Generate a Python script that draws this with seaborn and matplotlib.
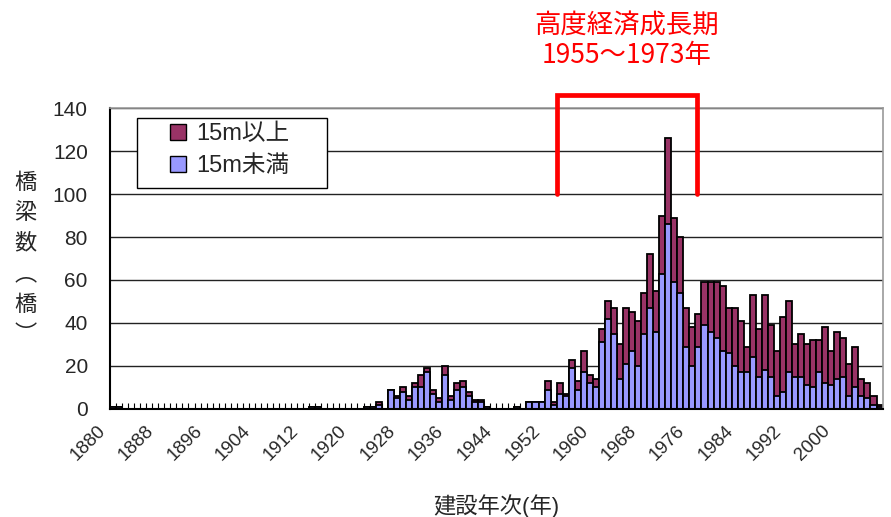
import matplotlib
matplotlib.use("Agg")
import matplotlib.pyplot as plt
import matplotlib.transforms as mtransforms
import pandas as pd
import seaborn as sns
from matplotlib.patches import Patch, Rectangle

# 建設年次 1880-2007
start_year = 1880
end_year = 2007
years = list(range(start_year, end_year + 1))

# 15m未満 (one row per decade)
under_15m = [
    1, 1, 0, 0, 0, 0, 0, 0, 0, 0,          # 1880
    0, 0, 0, 0, 0, 0, 0, 0, 0, 0,          # 1890
    0, 0, 0, 0, 0, 0, 0, 0, 0, 0,          # 1900
    0, 0, 0, 1, 1, 0, 0, 0, 0, 0,          # 1910
    0, 0, 1, 1, 2, 0, 9, 5, 8, 4,          # 1920
    10, 10, 17, 7, 3, 16, 4, 9, 10, 6,     # 1930
    3, 3, 1, 0, 0, 0, 0, 1, 0, 3,          # 1940
    3, 3, 9, 2, 7, 6, 19, 9, 17, 12,       # 1950
    10, 31, 42, 35, 14, 21, 27, 20, 35, 47,  # 1960
    36, 63, 86, 59, 54, 29, 20, 29, 39, 36,  # 1970
    33, 27, 26, 20, 17, 17, 24, 15, 18, 15,  # 1980
    6, 8, 17, 15, 15, 11, 10, 17, 12, 11,  # 1990
    14, 15, 6, 10, 6, 5, 2, 1,             # 2000
]

# 15m以上
over_15m = [
    0, 0, 0, 0, 0, 0, 0, 0, 0, 0,
    0, 0, 0, 0, 0, 0, 0, 0, 0, 0,
    0, 0, 0, 0, 0, 0, 0, 0, 0, 0,
    0, 0, 0, 0, 0, 0, 0, 0, 0, 0,
    0, 0, 0, 0, 1, 0, 0, 1, 2, 2,
    2, 6, 2, 2, 2, 4, 2, 3, 3, 2,
    1, 1, 0, 0, 0, 0, 0, 0, 0, 0,
    0, 0, 4, 1, 5, 1, 4, 4, 10, 4,
    4, 6, 8, 12, 16, 26, 18, 21, 19, 25,
    19, 27, 40, 30, 26, 18, 18, 15, 20, 23,
    26, 30, 21, 27, 24, 12, 29, 22, 35, 24,
    21, 35, 33, 15, 20, 19, 22, 15, 26, 16,
    22, 18, 15, 19, 8, 7, 4, 1,
]

label_years = list(range(1880, 2001, 8))
period_label = "高度経済成長期\n1955～1973年"

df = pd.DataFrame({
    "year": [str(y) for y in years],
    "under": under_15m,
    "total": [a + b for a, b in zip(under_15m, over_15m)],
})

sns.set_theme(style="white")
plt.rcParams["font.family"] = ["Liberation Sans", "Noto Sans CJK JP"]

fig = plt.figure(figsize=(8.91, 5.17), dpi=100)
ax = fig.add_axes([0.1235, 0.209, 0.867, 0.582])

maroon = "#993366"
lavender = "#9999FF"

sns.barplot(data=df, x="year", y="total", color=maroon, width=1.0,
            edgecolor="black", linewidth=1.3, saturation=1, ax=ax)
sns.barplot(data=df, x="year", y="under", color=lavender, width=1.0,
            edgecolor="black", linewidth=1.3, saturation=1, ax=ax)

n = len(years)
ax.set_xlim(-0.5, n - 0.5)
ax.set_ylim(0, 140)
ax.set_yticks(range(0, 141, 20))
ax.set_yticklabels([str(v) for v in range(0, 141, 20)], fontsize=15)
for v in range(20, 141, 20):
    ax.axhline(v, color="#222222", linewidth=1.0, zorder=0)

pos = [years.index(y) for y in label_years]
ax.set_xticks(pos)
ax.set_xticklabels([str(y) for y in label_years], rotation=45, ha="right",
                   va="center", rotation_mode="anchor", fontsize=13.5)
ax.tick_params(axis="x", which="major", length=0, pad=14)
ax.tick_params(axis="y", length=0, pad=16)
ax.set_xticks([k - 0.5 for k in range(1, n)], minor=True)
ax.tick_params(axis="x", which="minor", direction="in", length=4,
               width=0.8, color="black", bottom=True)

ax.set_xlabel("建設年次(年)", fontsize=16, labelpad=22)
ax.set_ylabel("")

for side in ["top", "right"]:
    ax.spines[side].set_color("#999999")
    ax.spines[side].set_linewidth(1.2)
for side in ["left", "bottom"]:
    ax.spines[side].set_color("black")
    ax.spines[side].set_linewidth(1.5)

fig.text(0.029, 0.5, "橋\n梁\n数\n︵\n橋\n︶", ha="center", va="center",
         fontsize=16, linespacing=1.42, family=["Noto Sans CJK JP"])

# legend: own frame, entries inset like the original
ax.add_patch(Rectangle((0.035, 0.734), 0.246, 0.233, transform=ax.transAxes,
                       facecolor="white", edgecolor="black", linewidth=1.0,
                       zorder=6))
handles = [Patch(facecolor=maroon, edgecolor="black", label="15m以上"),
           Patch(facecolor=lavender, edgecolor="black", label="15m未満")]
leg = ax.legend(handles=handles, loc="upper left",
                bbox_to_anchor=(0.078, 0.95), fontsize=17, frameon=False,
                handlelength=0.68, handleheight=0.68, handletextpad=0.42,
                borderpad=0, labelspacing=0.42, borderaxespad=0)
leg.set_zorder(7)

# 高度経済成長期 bracket
x0 = years.index(1954) - 0.5
x1 = years.index(1977) - 0.3
ax.plot([x0, x0, x1, x1], [100, 146, 146, 100], color="red", linewidth=3.4,
        clip_on=False, solid_joinstyle="miter", zorder=5)
ax.text((x0 + x1) / 2, 158, period_label, color="red", ha="center",
        va="bottom", fontsize=19, linespacing=1.12,
        family=["Noto Sans CJK JP"], clip_on=False)

# nudge the slanted labels a little to the left (after all tick_params)
shift = mtransforms.ScaledTranslation(-0.1, 0, fig.dpi_scale_trans)
for lab in ax.get_xticklabels():
    lab.set_transform(lab.get_transform() + shift)

fig.savefig("out.png", dpi=100)
